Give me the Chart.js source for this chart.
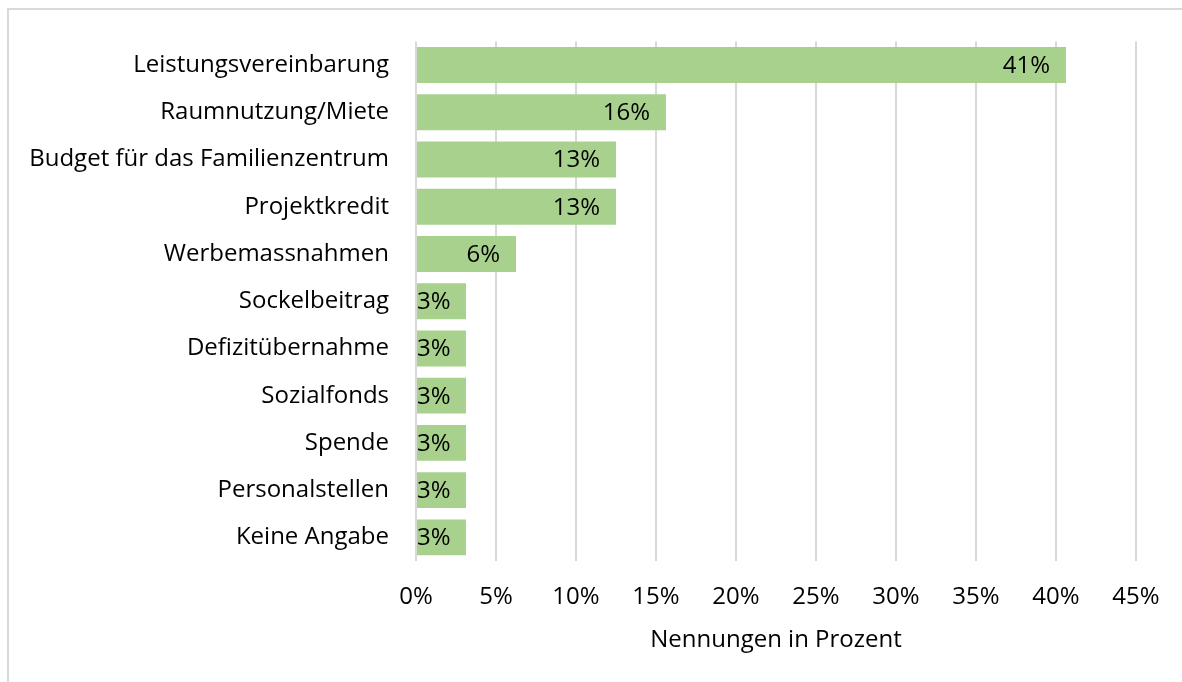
<!DOCTYPE html>
<html><head><meta charset="utf-8">
<script src="https://cdn.jsdelivr.net/npm/chart.js@4.4.0/dist/chart.umd.min.js"></script>
<style>html,body{margin:0;padding:0;background:#fff}#wrap{width:1182px;height:682px;position:relative}</style>
</head><body><div id="wrap"><canvas id="c" width="1182" height="682"></canvas></div>
<script>
const categories = ["Leistungsvereinbarung","Raumnutzung/Miete","Budget für das Familienzentrum","Projektkredit","Werbemassnahmen","Sockelbeitrag","Defizitübernahme","Sozialfonds","Spende","Personalstellen","Keine Angabe"];
const values = [40.625,15.625,12.5,12.5,6.25,3.125,3.125,3.125,3.125,3.125,3.125];
const valueLabels = ["41%","16%","13%","13%","6%","3%","3%","3%","3%","3%","3%"];
const xTicks = [0,5,10,15,20,25,30,35,40,45];
const xTitle = "Nennungen in Prozent";

const FONT = "'Open Sans', Lato, sans-serif";
const FS = 24;

const framePlugin = {
  id:'frame',
  beforeDraw(chart){
    const ctx = chart.ctx;
    ctx.save();
    ctx.fillStyle = '#fff';
    ctx.fillRect(0,0,chart.width,chart.height);
    ctx.strokeStyle = '#d9d9d9';
    ctx.lineWidth = 2;
    ctx.beginPath();
    ctx.moveTo(8, chart.height+5);
    ctx.lineTo(8, 9);
    ctx.lineTo(chart.width+5, 9);
    ctx.stroke();
    ctx.restore();
  }
};

const labelPlugin = {
  id:'vlabels',
  afterDatasetsDraw(chart){
    const ctx = chart.ctx;
    const meta = chart.getDatasetMeta(0);
    const left = chart.scales.x.left;
    ctx.save();
    ctx.font = FS + "px " + FONT;
    ctx.fillStyle = '#000';
    ctx.textBaseline = 'middle';
    ctx.textAlign = 'left';
    meta.data.forEach((bar,i)=>{
      const t = valueLabels[i];
      const w = ctx.measureText(t).width;
      let x = bar.x - 16 - w;
      if (x < left + 1) x = left + 1;
      ctx.fillText(t, x, bar.y + 1);
    });
    ctx.restore();
  }
};

new Chart(document.getElementById('c'), {
  type:'bar',
  data:{labels:categories, datasets:[{data:values, backgroundColor:'#a9d18e', borderWidth:0, barPercentage:0.76, categoryPercentage:1}]},
  options:{
    indexAxis:'y',
    responsive:false,
    animation:false,
    layout:{padding:{top:38,right:46,left:0,bottom:0}},
    plugins:{legend:{display:false},tooltip:{enabled:false}},
    scales:{
      x:{
        min:0,max:45,
        afterBuildTicks(s){ s.ticks = xTicks.map(v=>({value:v})); },
        afterFit(s){ s.height = 121; },
        grid:{color:'#d9d9d9',lineWidth:2,drawTicks:false},
        border:{display:false},
        ticks:{padding:22,color:'#000',font:{family:FONT,size:FS},callback:v=>v+'%'},
        title:{display:true,text:xTitle,color:'#000',font:{family:FONT,size:FS},padding:{top:4,bottom:27}}
      },
      y:{
        afterFit(s){ s.width = 416; },
        grid:{display:false,drawTicks:false},
        border:{display:false},
        ticks:{padding:27,color:'#000',font:{family:FONT,size:FS}}
      }
    }
  },
  plugins:[framePlugin,labelPlugin]
});
</script></body></html>
